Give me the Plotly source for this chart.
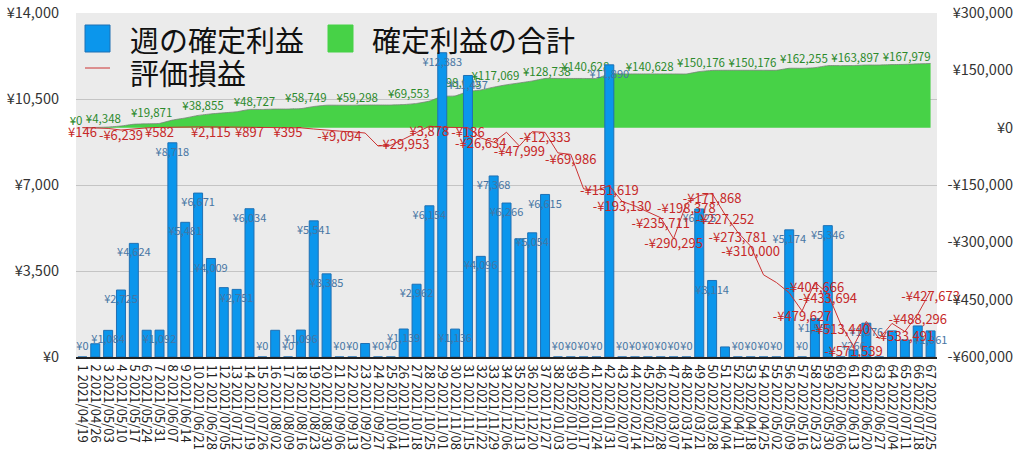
import plotly.graph_objects as go

# ---------------- data ----------------
week_no = list(range(1, 68))
dates = [
    "2021/04/19", "2021/04/26", "2021/05/03", "2021/05/10", "2021/05/17", "2021/05/24", "2021/05/31",
    "2021/06/07", "2021/06/14", "2021/06/21", "2021/06/28", "2021/07/05", "2021/07/12", "2021/07/19",
    "2021/07/26", "2021/08/02", "2021/08/09", "2021/08/16", "2021/08/23", "2021/08/30", "2021/09/06",
    "2021/09/13", "2021/09/20", "2021/09/27", "2021/10/04", "2021/10/11", "2021/10/18", "2021/10/25",
    "2021/11/01", "2021/11/08", "2021/11/15", "2021/11/22", "2021/11/29", "2021/12/06", "2021/12/13",
    "2021/12/20", "2021/12/27", "2022/01/03", "2022/01/10", "2022/01/17", "2022/01/24", "2022/01/31",
    "2022/02/07", "2022/02/14", "2022/02/21", "2022/02/28", "2022/03/07", "2022/03/14", "2022/03/21",
    "2022/03/28", "2022/04/04", "2022/04/11", "2022/04/18", "2022/04/25", "2022/05/02", "2022/05/09",
    "2022/05/16", "2022/05/23", "2022/05/30", "2022/06/06", "2022/06/13", "2022/06/20", "2022/06/27",
    "2022/07/04", "2022/07/11", "2022/07/18", "2022/07/25",
]
categories = [f"{n} {d}" for n, d in zip(week_no, dates)]

# 週の確定利益 (weekly realised profit, left axis)
weekly_profit = [
    0, 539, 1084, 2725, 4624, 1089, 1092, 8718, 5481, 6671,
    4009, 2823, 2751, 6034, 0, 1087, 0, 1096, 5541, 3385,
    0, 0, 549, 0, 0, 1139, 2962, 6154, 12383, 1136,
    11457, 4096, 7368, 6266, 4810, 5054, 6615, 0, 0, 0,
    0, 11890, 0, 0, 0, 0, 0, 0, 6025, 3114,
    409, 0, 0, 0, 0, 5174, 0, 1559, 5346, 0,
    266, 1376, 0, 1062, 695, 1264, 1061,
]

# 確定利益の合計 (cumulative realised profit, right axis)
cumulative_profit = [
    0, 539, 1623, 4348, 8972, 10061, 11153, 19871, 25352, 32023,
    36032, 38855, 41606, 47640, 47640, 48727, 48727, 49823, 55364, 58749,
    58749, 58749, 59298, 59298, 59298, 60437, 63399, 69553, 81936, 83072,
    94529, 98625, 105993, 112259, 117069, 122123, 128738, 128738, 128738, 128738,
    128738, 140628, 140628, 140628, 140628, 140628, 140628, 140628, 146653, 149767,
    150176, 150176, 150176, 150176, 150176, 155350, 155350, 156909, 162255, 162255,
    162521, 163897, 163897, 164959, 165654, 166918, 167979,
]

# 評価損益 (unrealised P/L, right axis)
unrealized_pl = [
    146, -500, -2000, -6239, -3000, -500, 582, 1500, 1800, 2000,
    2115, 1800, 800, 897, 300, 200, 395, -500, -3500, -7000,
    -9094, -11000, -14000, -48000, -46000, -29953, -12000, 3878, 1200, 800,
    -136, -26634, -38000, -12000, -47999, -10500, -12333, -66000, -69986, -160000,
    -164000, -151619, -193130, -205000, -220000, -235711, -290295, -198378, -178000, -171868,
    -227252, -273781, -310000, -385000, -405000, -432000, -479627, -404666, -433694, -513440,
    -571539, -507000, -552000, -512000, -533491, -488296, -427673,
]

# which data labels are drawn in the reference
bar_label_hidden = [2, 6, 12, 16, 23, 35, 51, 60, 63, 64, 65, 66]
cum_label_weeks = [1, 4, 8, 12, 16, 20, 24, 28, 32, 35, 39, 42, 47, 51, 55, 59, 63, 67]
pl_label_weeks = [1, 4, 7, 11, 14, 17, 21, 26, 28, 31, 32, 35, 37, 39, 42, 43, 46, 47, 48,
                  50, 51, 52, 53, 57, 58, 59, 60, 61, 65, 66, 67]

left_ticks = [0, 3500, 7000, 10500, 14000]
right_ticks = [300000, 150000, 0, -150000, -300000, -450000, -600000]

series_names = ["週の確定利益", "確定利益の合計", "評価損益"]


def yen(v):
    return ("-" if v < 0 else "") + "¥{:,}".format(abs(v))


# ---------------- style ----------------
W, H = 1024, 470
PLOT_L, PLOT_R, PLOT_T, PLOT_B = 76, 937, 13, 357   # wanted plot area in pixels
ML, MT = PLOT_L, PLOT_T
MB = H - PLOT_B
MR = 0
FONT = "Noto Sans CJK JP"
BLUE = "#0b96ec"
BLUE_EDGE = "#1f70b4"
GREEN = "#47d247"
RED = "#cc3333"

paper_w = (W - MR) - PLOT_L
paper_h = PLOT_B - PLOT_T
xdom = (PLOT_R - PLOT_L) / paper_w


def px_x(x):
    return (x - PLOT_L) / paper_w


def px_y(y):
    return (PLOT_B - y) / paper_h


fig = go.Figure()

# green cumulative area (main y, right scale)
fig.add_trace(go.Scatter(
    x=categories, y=cumulative_profit, mode="lines", fill="tozeroy",
    fillcolor=GREEN, line=dict(color="rgba(120,130,120,0.8)", width=1, shape="spline", smoothing=0.5),
    yaxis="y", showlegend=False, hoverinfo="skip",
))
fig.add_trace(go.Scatter(
    x=[categories[w - 1] for w in cum_label_weeks],
    y=[cumulative_profit[w - 1] for w in cum_label_weeks],
    text=[yen(cumulative_profit[w - 1]) for w in cum_label_weeks],
    mode="text", textposition="top left",
    textfont=dict(family=FONT, size=11.5, color="#2b8a2b"),
    yaxis="y", showlegend=False, cliponaxis=False, hoverinfo="skip",
))

# weekly bars (y2, left scale)
fig.add_trace(go.Bar(
    x=categories, y=weekly_profit, marker=dict(color=BLUE, line=dict(color=BLUE_EDGE, width=1)),
    yaxis="y2", showlegend=False, name=series_names[0],
))
shown = [w for w in week_no if w not in bar_label_hidden]
fig.add_trace(go.Scatter(
    x=[categories[w - 1] for w in shown],
    y=[max(weekly_profit[w - 1] - 420, 380) for w in shown],
    text=[yen(weekly_profit[w - 1]) for w in shown],
    mode="text", textposition="middle center",
    textfont=dict(family=FONT, size=11, color="#4675a3"),
    yaxis="y2", showlegend=False, cliponaxis=False, hoverinfo="skip",
))

# red unrealised P/L line (y3, same as right scale)
fig.add_trace(go.Scatter(
    x=categories, y=unrealized_pl, mode="lines", line=dict(color=RED, width=1),
    yaxis="y3", showlegend=False, name=series_names[2],
))
fig.add_trace(go.Scatter(
    x=[categories[w - 1] for w in pl_label_weeks],
    y=[unrealized_pl[w - 1] for w in pl_label_weeks],
    text=[yen(unrealized_pl[w - 1]) for w in pl_label_weeks],
    mode="text", textposition="bottom center",
    textfont=dict(family=FONT, size=13, color="#c62828"),
    yaxis="y3", showlegend=False, cliponaxis=False, hoverinfo="skip",
))

# ---------------- manual legend ----------------
shapes = [
    dict(type="rect", xref="paper", yref="paper", x0=px_x(85), x1=px_x(110), y0=px_y(52), y1=px_y(25),
         fillcolor=BLUE, line=dict(color=BLUE_EDGE, width=1)),
    dict(type="rect", xref="paper", yref="paper", x0=px_x(328), x1=px_x(353), y0=px_y(52), y1=px_y(25),
         fillcolor=GREEN, line=dict(color=GREEN, width=1)),
    dict(type="line", xref="paper", yref="paper", x0=px_x(85), x1=px_x(110), y0=px_y(68), y1=px_y(68),
         line=dict(color=RED, width=1)),
]
annotations = []
for name, lx, ly in zip(series_names, [128, 370, 128], [39, 39, 72]):
    annotations.append(dict(
        text=name, xref="paper", yref="paper", x=px_x(lx), y=px_y(ly),
        xanchor="left", yanchor="middle", showarrow=False,
        font=dict(family=FONT, size=29, color="#111111"),
    ))

fig.update_layout(
    width=W, height=H, template="none",
    margin=dict(l=ML, r=MR, t=MT, b=MB, pad=0),
    paper_bgcolor="white", plot_bgcolor="#ebebeb",
    font=dict(family=FONT, size=13, color="#333333"),
    bargap=0.3, showlegend=False,
    shapes=shapes, annotations=annotations,
    xaxis=dict(
        domain=[0, xdom], type="category", range=[-0.5, len(categories) - 0.5],
        tickmode="array", tickvals=categories, ticktext=categories,
        tickangle=90, tickfont=dict(family=FONT, size=13, color="#222222"),
        showgrid=False, zeroline=False, showline=True, linecolor="#222222", linewidth=2,
        ticks="", ticklabelstandoff=3, anchor="y", automargin=False,
    ),
    yaxis=dict(
        range=[-600000, 300000], anchor="free", position=1.0, side="left",
        tickvals=right_ticks, ticktext=[yen(v) for v in right_ticks],
        ticks="", ticklabelstandoff=11, ticklabeloverflow="allow",
        showgrid=False, zeroline=False, showline=False,
        tickfont=dict(family=FONT, size=14.5, color="#333333"), automargin=False,
    ),
    yaxis2=dict(
        range=[0, 14000], overlaying="y", side="left", anchor="x",
        tickvals=left_ticks, ticktext=[yen(v) for v in left_ticks],
        showgrid=True, gridcolor="#c4c4c4", gridwidth=1, zeroline=False, showline=False,
        ticks="", ticklabelstandoff=16, ticklabeloverflow="allow",
        tickfont=dict(family=FONT, size=14.5, color="#333333"),
        automargin=False,
    ),
    yaxis3=dict(range=[-600000, 300000], overlaying="y", visible=False, anchor="x"),
)

# remove the default 8px page margin so the figure sits at the window's corner
fig.write_html(
    "out.html",
    config={"displayModeBar": False},
    post_script="document.body.style.margin='0';",
)
